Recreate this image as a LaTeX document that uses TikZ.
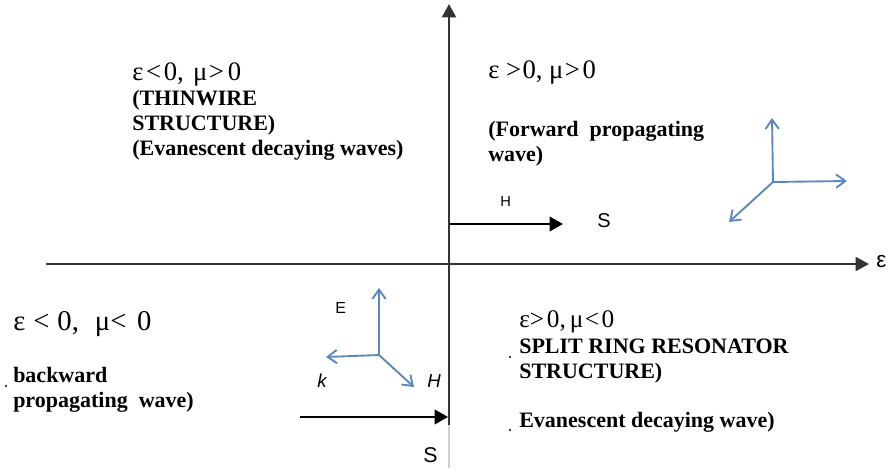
\documentclass[tikz,border=0pt]{standalone}
\usepackage{fontspec}
\setmainfont{Liberation Serif}
\newfontfamily\sanslbl{Liberation Sans}
\usetikzlibrary{arrows.meta}
\definecolor{cAxis}{HTML}{333333}
\definecolor{cField}{HTML}{5B87C0}
\definecolor{cFaint}{HTML}{D0D0D0}
\tikzset{
  quad/.style={anchor=base west,inner sep=0pt,font=\fontsize{20}{22}\selectfont},
  desc/.style={anchor=base west,inner sep=0pt,align=left,font=\fontsize{16.5}{18.75}\selectfont\bfseries},
  slbl/.style={anchor=base west,inner sep=0pt,font=\sanslbl\fontsize{11}{13}\selectfont},
  axis/.style={-{Triangle[length=10pt,width=10.5pt]},line width=1.5pt,draw=cAxis},
  sarr/.style={-{Triangle[length=10pt,width=11pt]},line width=1.1pt},
  farr/.style={-{Straight Barb[length=7pt,width=10pt]},line width=1.4pt,draw=cField},
  speck/.style={circle,fill=black,inner sep=0pt,minimum size=1.6pt}}

\begin{document}
\begin{tikzpicture}[x=0.75pt,y=-0.75pt]
\useasboundingbox (0,0) rectangle (889,468);
% axes
\coordinate (o)   at (449,264);
\coordinate (xl)  at (46,264);
\coordinate (xr)  at (869,264);
\coordinate (yb)  at (449,425);
\coordinate (yt)  at (449,4);
\coordinate (ye)  at (449,468);
\draw[axis] (xl) -- (xr);
\draw[axis] (yb) -- (yt);
\draw[cFaint, line width=1pt] (yb) -- (ye);
\node[anchor=base west, inner sep=0pt, font=\sanslbl\fontsize{17}{20}\selectfont] (eps) at (876,267) {ε};

% quadrant labels (base = last line)
\node[quad] (qNW) at (132,80) {ε\hspace{2pt}<\hspace{2pt}0, \hspace{2pt}μ\hspace{1pt}>\hspace{3pt}0};
\node[desc] (dNW) at (132,155) {(THINWIRE\\ STRUCTURE)\\ (Evanescent decaying waves)};
\node[quad] (qNE) at (488,78) {ε >\hspace{1pt}0, μ\hspace{1pt}>\hspace{2pt}0};
\node[desc] (dNE) at (488,161) {(Forward\ \ propagating\\ wave)};
\node[quad, font=\fontsize{21.5}{24}\selectfont] (qSW) at (13,330)
  {ε\hspace{6pt}<\hspace{6pt}0,\hspace{12pt}μ<\hspace{8pt}0};
\node[desc] (dSW) at (13,407) {backward\\ propagating\ \ wave)};
\node[quad, font=\fontsize{19}{22}\selectfont] (qSE) at (519,327) {ε>\hspace{2pt}0,\hspace{3pt}μ\hspace{1pt}<\hspace{2pt}0};
\node[desc] (dSE) at (519,378) {SPLIT RING RESONATOR\\ STRUCTURE)};
\node[desc] (eSE) at (519,427) {Evanescent decaying wave)};
\node[speck] (p1) at (6,386) {};
\node[speck] (p2) at (510,357) {};
\node[speck] (p3) at (510,430) {};

% Poynting arrows
\coordinate (s1a) at (450,224);
\coordinate (s1b) at (563,224);
\draw[sarr] (s1a) -- (s1b);
\node[slbl] (h1) at (500,206) {H};
\node[slbl, font=\sanslbl\fontsize{15}{17}\selectfont] (s1) at (597,227) {S};
\coordinate (s2a) at (300,417);
\coordinate (s2b) at (448,417);
\draw[sarr] (s2a) -- (s2b);
\node[slbl, font=\sanslbl\fontsize{16}{18}\selectfont] (s2) at (423,462) {S};

% field triads
\coordinate (ta)  at (773,182);
\coordinate (tau) at (772,118);
\coordinate (tar) at (847,181);
\coordinate (tal) at (729,222);
\draw[farr] (ta) -- (tau);
\draw[farr] (ta) -- (tar);
\draw[farr] (ta) -- (tal);
\coordinate (tb)  at (379,355);
\coordinate (tbu) at (379,288);
\coordinate (tbl) at (326,357);
\coordinate (tbr) at (414,387);
\draw[farr] (tb) -- (tbu);
\draw[farr] (tb) -- (tbl);
\draw[farr] (tb) -- (tbr);
\node[slbl, font=\sanslbl\fontsize{12}{14}\selectfont] (E) at (335,313) {E};
\node[slbl, font=\sanslbl\itshape\fontsize{14}{16}\selectfont] (k) at (317,387) {k};
\node[slbl, font=\sanslbl\itshape\fontsize{14}{16}\selectfont] (H) at (427,387) {H};
\end{tikzpicture}
\end{document}
